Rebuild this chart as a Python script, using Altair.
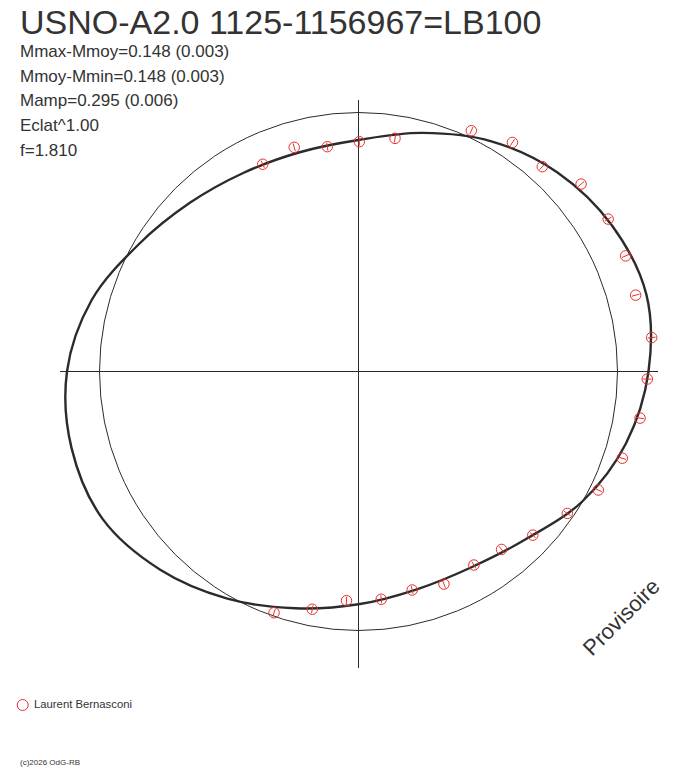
import altair as alt
import numpy as np
import pandas as pd

# ---------------------------------------------------------
# Data (polar light curve)
# angles in degrees (counter-clockwise from +x), radii in plot units
# ---------------------------------------------------------
curve_angle = list(range(0, 360, 15))
curve_radius = [290, 298, 292.5, 281.4, 265.8, 247, 231.5, 227, 229.5, 238.5, 254, 276.2,
                291.5, 297, 295.3, 280.4, 262.3, 245.1, 232.8, 225.5, 226, 237, 259, 277]

obs_angle = [114.8, 106.0, 97.9, 89.8, 81.1, 64.9, 56.1, 48.1, 40.1, 31.4, 23.4, 15.4, 6.6,
             -1.5, -9.4, -18.2, -26.3, -34.2, -43.2, -51.2, -59.2, -68.1, -76.2, -84.3,
             -93.0, -101.0, -109.3]
obs_radius = [228.3, 233.2, 227.0, 229.8, 236.0, 265.9, 276.0, 275.2, 291.0, 292.5, 291.1,
              287.5, 295.1, 288.9, 285.4, 277.7, 267.5, 252.5, 239.1, 228.3, 225.3, 229.1,
              225.0, 228.9, 229.5, 242.2, 255.6]
obs_err = 4.0  # half length of the radial error tick

ref_radius = 259  # mean magnitude circle

title = "USNO-A2.0 1125-1156967=LB100"
stats = [
    "Mmax-Mmoy=0.148 (0.003)",
    "Mmoy-Mmin=0.148 (0.003)",
    "Mamp=0.295 (0.006)",
    "Eclat^1.00",
    "f=1.810",
]
observer = "Laurent Bernasconi"
copyright_txt = "(c)2026 OdG-RB"
watermark = "Provisoire"

# ---------------------------------------------------------
# Geometry
# ---------------------------------------------------------
W, H = 672, 742
PAD = {"top": 10, "bottom": 8, "left": 0, "right": 0}
FONT = "Liberation Sans"
INK = "#2b2b2b"
TXT = "#333333"
RED = "#e5302f"

xs = alt.Scale(domain=[-350.5, 321.5], nice=False, zero=False)
ys = alt.Scale(domain=[-388.5, 353.5], nice=False, zero=False)


def _xy(angle, radius):
    a = np.radians(np.asarray(angle, dtype=float))
    r = np.asarray(radius, dtype=float)
    return r * np.cos(a), r * np.sin(a)


cx, cy = _xy(curve_angle, curve_radius)
curve_df = pd.DataFrame({"x": cx, "y": cy, "order": curve_angle})

ox, oy = _xy(obs_angle, obs_radius)
ix, iy = _xy(obs_angle, np.array(obs_radius) - obs_err)
ex, ey = _xy(obs_angle, np.array(obs_radius) + obs_err)
obs_df = pd.DataFrame({"x": ox, "y": oy, "x1": ix, "y1": iy, "x2": ex, "y2": ey})

axes_df = pd.DataFrame({
    "x1": [-298.5, 0.0], "x2": [299.5, 0.0],
    "y1": [0.0, 271.5], "y2": [0.0, -296.5],
})

X = lambda f: alt.X(f, type="quantitative", scale=xs, axis=None)
Y = lambda f: alt.Y(f, type="quantitative", scale=ys, axis=None)

ref_circle = (
    alt.Chart(pd.DataFrame({"x": [0.0], "y": [0.0]}))
    .mark_point(shape="circle", size=(2 * ref_radius) ** 2, filled=False,
                color=INK, strokeWidth=1, opacity=1)
    .encode(x=X("x"), y=Y("y"))
)

axes = (
    alt.Chart(axes_df)
    .mark_rule(color=INK, strokeWidth=1)
    .encode(x=X("x1"), x2="x2", y=Y("y1"), y2="y2")
)

curve = (
    alt.Chart(curve_df)
    .mark_line(color=INK, strokeWidth=2.4, interpolate="cardinal-closed")
    .encode(x=X("x"), y=Y("y"), order="order:Q")
)

points = (
    alt.Chart(obs_df)
    .mark_point(shape="circle", size=110, filled=False, color=RED,
                strokeWidth=1, opacity=1)
    .encode(x=X("x"), y=Y("y"))
)

ticks = (
    alt.Chart(obs_df)
    .mark_rule(color=RED, strokeWidth=1)
    .encode(x=X("x1"), x2="x2", y=Y("y1"), y2="y2")
)


def _label(text, x, y, size, **kw):
    return (
        alt.Chart(pd.DataFrame({"t": [text]}))
        .mark_text(x=x, y=y, fontSize=size, font=FONT, color=TXT,
                   align="left", **kw)
        .encode(text="t:N")
    )


# y positions below are relative to the top of the plot area (page y - 18)
labels = [_label(title, 12, 15.5, 34, baseline="alphabetic")]
for i, line in enumerate(stats):
    labels.append(_label(line, 12, 39 + i * 24.7, 17, baseline="alphabetic"))
labels.append(_label(watermark, 584, 639, 22, baseline="alphabetic", angle=315))
labels.append(_label(observer, 26, 687, 11.3, baseline="middle"))
labels.append(_label(copyright_txt, 12, 745, 8, baseline="middle"))

legend_mark = (
    alt.Chart(pd.DataFrame({"t": [observer]}))
    .mark_point(shape="circle", size=121, filled=False, color=RED,
                strokeWidth=1, opacity=1)
    .encode(x=alt.value(14.7), y=alt.value(687))
)

chart = (
    alt.layer(ref_circle, axes, curve, points, ticks, legend_mark, *labels)
    .properties(width=W, height=H, padding=PAD,
                autosize=alt.AutoSizeParams(type="none"))
    .configure_view(stroke="transparent")
)

chart.save("out.html", embed_options={"renderer": "svg", "actions": False})
